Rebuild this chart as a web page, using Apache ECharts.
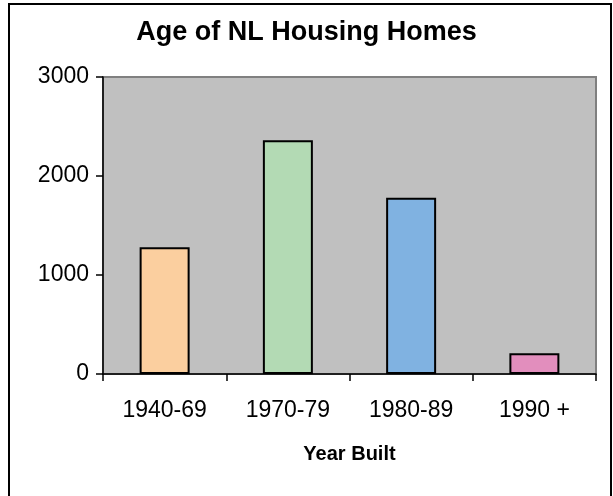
<!DOCTYPE html>
<html>
<head>
<meta charset="utf-8">
<script src="https://cdn.jsdelivr.net/npm/echarts@6/dist/echarts.min.js"></script>
<style>
	html, body { margin: 0; padding: 0; background: #fff; }
	#chart { width: 613px; height: 496px; }
</style>
</head>
<body>
<div id="chart"></div>
<script type="text/javascript">
	// data
	var periods = ['1940-69', '1970-79', '1980-89', '1990 +'];
	var homes = [1280, 2360, 1780, 210];
	var barColors = ['#FBCF9F', '#B3DAB4', '#80B2E1', '#E28EBD'];
	var yTicks = [0, 1000, 2000, 3000];

	var myChart = echarts.init(document.getElementById('chart'), null, {renderer: 'canvas'});
	var font = '"Liberation Sans", Arial, sans-serif';

	var option = {
		backgroundColor: '#fff',
		animation: false,
		textStyle: { fontFamily: font, color: '#000' },
		title: {
			text: 'Age of NL Housing Homes',
			left: 'center',
			top: 19,
			padding: 0,
			textStyle: { fontFamily: font, fontSize: 27, fontWeight: 'bold', color: '#000' }
		},
		graphic: [
			{
				type: 'rect',
				shape: { x: 9, y: 4, width: 602, height: 520 },
				style: { fill: 'none', stroke: '#000', lineWidth: 2 },
				silent: true
			}
		],
		grid: {
			left: 103, right: 17, top: 77, bottom: 122,
			show: true,
			backgroundColor: '#C0C0C0',
			borderColor: '#808080',
			borderWidth: 2
		},
		xAxis: {
			type: 'category',
			data: periods,
			name: 'Year Built',
			nameLocation: 'middle',
			nameGap: 70,
			nameTextStyle: { fontFamily: font, fontSize: 20, fontWeight: 'bold', color: '#000' },
			axisLine: { lineStyle: { color: '#000', width: 1.5 } },
			axisTick: { show: true, length: 7, lineStyle: { color: '#000', width: 1.5 } },
			axisLabel: { fontFamily: font, fontSize: 23, color: '#000', margin: 25 },
			splitLine: { show: false }
		},
		yAxis: {
			type: 'value',
			min: yTicks[0],
			max: yTicks[yTicks.length - 1],
			interval: 1000,
			axisLine: { show: true, lineStyle: { color: '#000', width: 1.5 } },
			axisTick: { show: true, length: 7, lineStyle: { color: '#000', width: 1.5 } },
			axisLabel: {
				fontFamily: font, fontSize: 23, color: '#000', margin: 14,
				formatter: function (v) { return String(v); }
			},
			splitLine: { show: false }
		},
		series: [
			{
				type: 'bar',
				barWidth: 50,
				data: homes.map(function (v, i) {
					return { value: v, itemStyle: { color: barColors[i] } };
				}),
				itemStyle: { borderColor: '#000', borderWidth: 2 }
			}
		]
	};

	myChart.setOption(option);
</script>
</body>
</html>
